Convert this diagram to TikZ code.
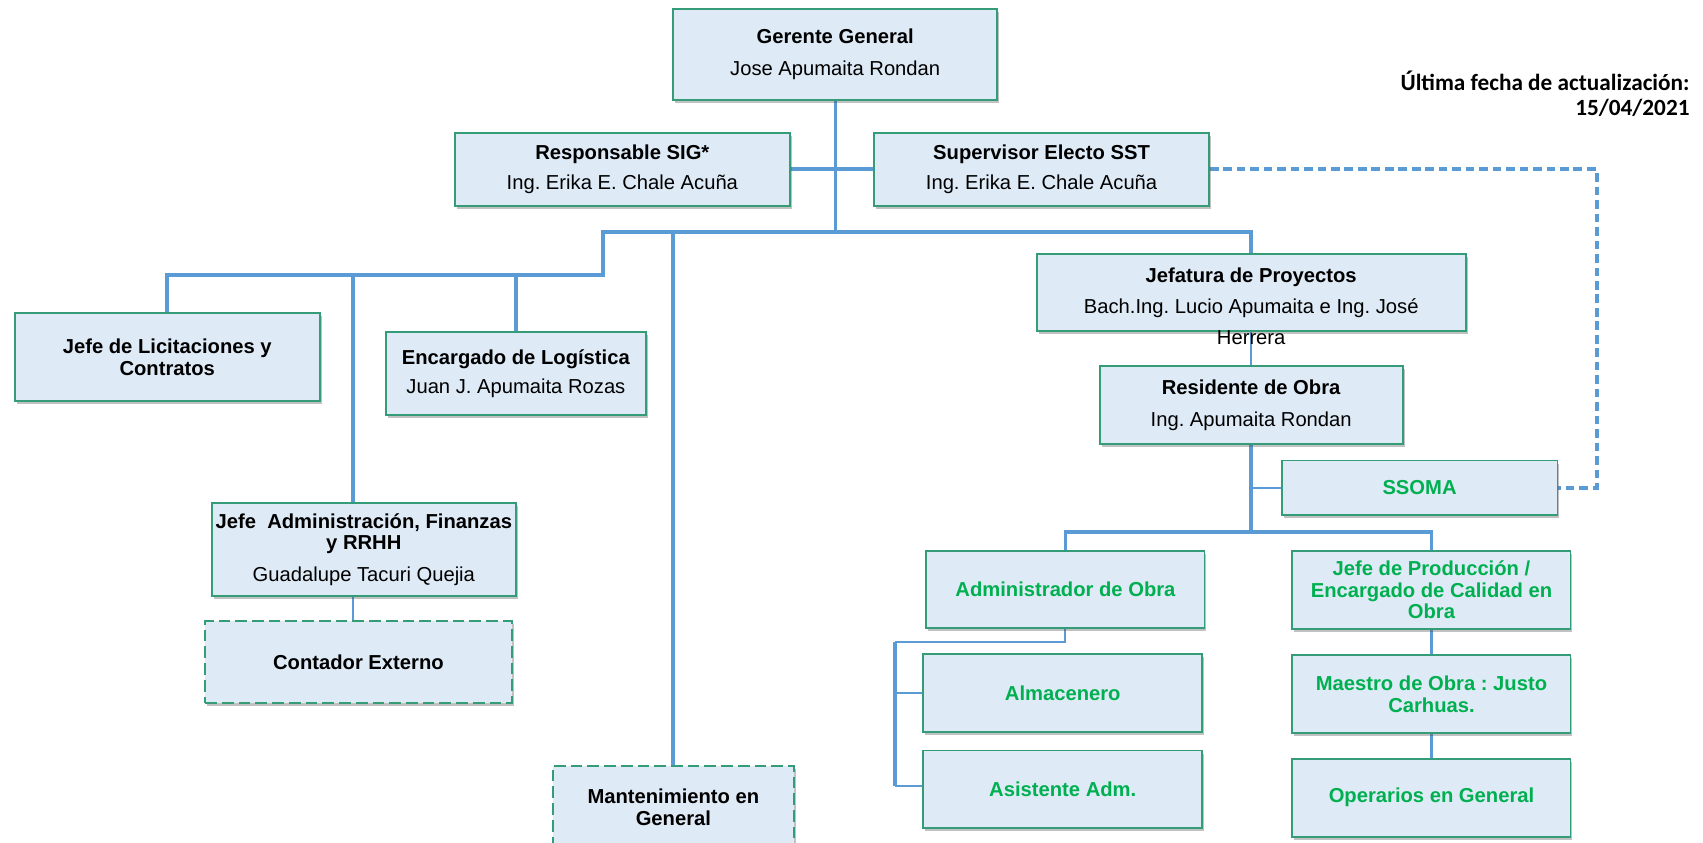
\documentclass[tikz,border=0pt]{standalone}
\usepackage{fontspec}
\setmainfont{Liberation Sans}
\newfontfamily\calib{Carlito}
\usetikzlibrary{shadows}
\definecolor{boxfill}{RGB}{222,234,246}
\definecolor{boxline}{RGB}{52,156,118}
\definecolor{conblue}{RGB}{91,155,213}
\definecolor{txtgreen}{RGB}{0,176,80}
\pgfdeclarelayer{bg}
\pgfsetlayers{bg,main}
\frenchspacing
\begin{document}
\begin{tikzpicture}[x=0.5pt,y=-0.5pt,
  box/.style={draw=boxline, line width=0.9pt, fill=boxfill, inner sep=0pt, align=center,
     font=\fontsize{9.3}{10}\selectfont,
     drop shadow={shadow xshift=0.9pt, shadow yshift=-1.4pt, opacity=0.35, fill=black!70}},
  dbox/.style={box, dash pattern=on 5.4pt off 2.3pt},
  gbox/.style={box, text=txtgreen, font=\fontsize{9.3}{10}\selectfont\bfseries},
  conn/.style={draw=conblue, line width=1.8pt},
  midconn/.style={draw=conblue, line width=1.3pt},
  thinconn/.style={draw=conblue, line width=0.9pt},
  dconn/.style={draw=conblue, line width=1.8pt, dash pattern=on 4pt off 2.2pt}
]
\clip (0,0) rectangle (1568,776);

\node[box, minimum width=149pt, minimum height=42pt] (gg) at (769,50) {\textbf{Gerente General}\\[5pt]Jose Apumaita Rondan};
\node[box, minimum width=154pt, minimum height=33.5pt] (sig) at (573,156) {\textbf{Responsable SIG*}\\[4pt]Ing. Erika E. Chale Acuña};
\node[box, minimum width=154pt, minimum height=33.5pt] (sst) at (959,156) {\textbf{Supervisor Electo SST}\\[4pt]Ing. Erika E. Chale Acuña};
\node[box, minimum width=140.5pt, minimum height=40.5pt] (lic) at (154,329) {\textbf{Jefe de Licitaciones y}\\\textbf{Contratos}};
\node[box, minimum width=120pt, minimum height=38pt] (log) at (475,344) {\textbf{Encargado de Logística}\\[3.5pt]Juan J. Apumaita Rozas};
\node[box, minimum width=197.5pt, minimum height=35.5pt] (jp) at (1152,269.5) {\textbf{Jefatura de Proyectos}\\[4.5pt]Bach.Ing. Lucio Apumaita e Ing. José};
\node[font=\fontsize{9.3}{10}\selectfont, inner sep=0pt, anchor=base] (jpx) at (1152,317) {Herrera};
\node[box, minimum width=139.5pt, minimum height=36pt] (ro) at (1152,373) {\textbf{Residente de Obra}\\[4.5pt]Ing. Apumaita Rondan};
\node[gbox, minimum width=127pt, minimum height=25pt] (ssoma) at (1307,449) {SSOMA};
\node[box, minimum width=140pt, minimum height=43pt] (adm) at (335,506) {\textbf{Jefe\ \ Administración, Finanzas}\\\textbf{y RRHH}\\[4.5pt]Guadalupe Tacuri Quejia};
\node[dbox, minimum width=141pt, minimum height=37.5pt] (cont) at (330,609.5) {\textbf{Contador Externo}};
\node[dbox, minimum width=111pt, minimum height=38pt] (mant) at (620,743) {\textbf{Mantenimiento en}\\\textbf{General}};
\node[gbox, minimum width=128pt, minimum height=35.5pt] (ao) at (981,542.5) {Administrador de Obra};
\node[gbox, minimum width=128pt, minimum height=36pt] (jprod) at (1318,543) {Jefe de Producción /\\Encargado de Calidad en\\Obra};
\node[gbox, minimum width=128.5pt, minimum height=36pt] (alm) at (978.5,638) {Almacenero};
\node[gbox, minimum width=128pt, minimum height=36pt] (mo) at (1318,639) {Maestro de Obra : Justo\\Carhuas.};
\node[gbox, minimum width=128.5pt, minimum height=35.5pt] (asis) at (978.5,726.5) {Asistente Adm.};
\node[gbox, minimum width=128pt, minimum height=36pt] (op) at (1318,734.5) {Operarios en General};

\node[anchor=north east, align=right, inner sep=0pt, font=\calib\bfseries\fontsize{10.7}{11.5}\selectfont] (upd) at (1556,65) {Última fecha de actualización:\\15/04/2021};

\begin{pgfonlayer}{bg}
\coordinate (t1) at (769,214);
\coordinate (cl) at (555,253);
\coordinate (ca) at (325,253);
\coordinate (cr) at (1152,490);
\coordinate (cb) at (824,591);
\coordinate (ce) at (824,724);
\coordinate (cd) at (1470,156);
\draw[midconn] (gg.south) -- (t1);
\draw[conn] (sig.east) -- (sst.west);
\draw[conn] (lic.north) |- (cl) |- (t1) -| (jp.north);
\draw[conn] (ca) -- (ca |- adm.north);
\draw[conn] (log.north) -- (log.north |- cl);
\draw[conn] (mant.north |- t1) -- (mant.north);
\draw[thinconn] (jp.south) -- (ro.north);
\draw[conn] (ro.south) -- (cr);
\draw[conn] (ao.north) |- (cr) -| (jprod.north);
\draw[thinconn] (ro.south |- ssoma.west) -- (ssoma.west);
\draw[dconn] (sst.east) -- (cd) |- (ssoma.east);
\draw[thinconn] (ca |- adm.south) -- (ca |- cont.north);
\draw[thinconn] (ao.south) |- (cb);
\draw[conn] (cb) -- (ce);
\draw[thinconn] (cb |- alm.west) -- (alm.west);
\draw[thinconn] (ce) -- (ce -| asis.west);
\draw[midconn] (jprod.south) -- (mo.north);
\draw[midconn] (mo.south) -- (op.north);
\end{pgfonlayer}
\end{tikzpicture}
\end{document}
